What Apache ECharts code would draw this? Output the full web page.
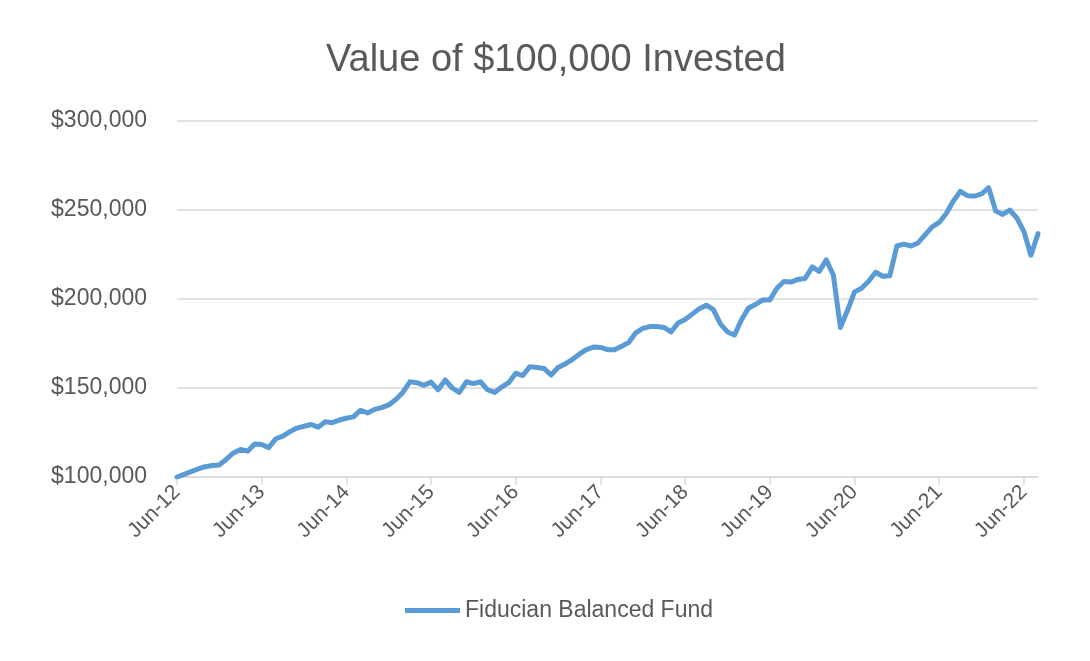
<!DOCTYPE html>
<html>
<head>
<meta charset="utf-8">
<title>Value of $100,000 Invested</title>
<script src="https://cdn.jsdelivr.net/npm/echarts@6/dist/echarts.min.js"></script>
<style>
  html, body { margin: 0; padding: 0; background: #fff; }
  #chart { width: 1090px; height: 661px; }
</style>
</head>
<body>
<div id="chart"></div>
<script>
// monthly points, Jun-12 .. Aug-22
const startYear = 2012
const startMonth = 5 // June (0 based)
const monthNames = ['Jan', 'Feb', 'Mar', 'Apr', 'May', 'Jun', 'Jul', 'Aug', 'Sep', 'Oct', 'Nov', 'Dec']

// fund value
const fundValues2012_14 = [
    100000, 101500, 103000, 104500, 105800, 106500, 106800, 110000, 113500, 115500, 114500, 118500,
    118300, 116500, 121500, 123000, 125500, 127500, 128500, 129500, 128000, 131000, 130500, 132000
]
const fundValues2014_16 = [
    133000, 133800, 137500, 136000, 138000, 139000, 140500, 143500, 147500, 153500, 153000, 151500,
    153300, 149000, 154500, 150000, 147500, 153500, 152500, 153500, 149000, 147500, 150500, 153000
]
const fundValues2016_18 = [
    158300, 157000, 162000, 161500, 161000, 157300, 161500, 163500, 166000, 169000, 171500, 173000,
    172800, 171500, 171500, 173500, 175500, 181000, 183500, 184500, 184500, 184000, 181500, 186500
]
const fundValues2018_20 = [
    188500, 191500, 194500, 196500, 194000, 186000, 181500, 179800, 188500, 195000, 197000, 199500,
    199500, 206000, 209800, 209500, 211000, 211500, 218000, 215500, 222000, 213500, 184000, 193500
]
const fundValues2020_22 = [
    204000, 206000, 210000, 215000, 212800, 213000, 229800, 230800, 229800, 231500, 236000, 240500,
    243000, 248000, 255000, 260500, 258000, 257800, 259000, 262600, 249500, 247500, 250000, 245500,
    238000, 224600, 236700
]

const fundName = 'Fiducian Balanced Fund'
const yTicks = [100000, 150000, 200000, 250000, 300000]

const fundValues = [].concat(fundValues2012_14, fundValues2014_16, fundValues2016_18,
    fundValues2018_20, fundValues2020_22)

// labels like Jun-12
const categories = fundValues.map((v, i) => {
    const m = startMonth + i
    const yy = startYear + Math.floor(m / 12)
    return monthNames[m % 12] + '-' + String(yy).slice(2)
})

const textColor = '#595959'
const gridColor = '#d9d9d9'
const fontName = 'Liberation Sans'

let myChart = echarts.init(document.getElementById('chart'))
const options = {
    backgroundColor: '#ffffff',
    animation: false,
    title: {
        text: 'Value of $100,000 Invested',
        left: 321,
        top: 37,
        textStyle: {
            color: textColor,
            fontFamily: fontName,
            fontSize: 38,
            fontWeight: 'normal'
        }
    },
    legend: {
        data: [fundName],
        left: 400,
        top: 594,
        icon: 'rect',
        itemWidth: 55,
        itemHeight: 5,
        itemGap: 10,
        textStyle: {
            color: textColor,
            fontFamily: fontName,
            fontSize: 23
        }
    },
    grid: {
        left: 177,
        right: 52,
        top: 121,
        bottom: 184,
        containLabel: false
    },
    xAxis: {
        type: 'category',
        boundaryGap: false,
        data: categories,
        axisLine: { lineStyle: { color: gridColor, width: 1.5 } },
        axisTick: {
            show: true,
            interval: 11,
            length: 8,
            lineStyle: { color: gridColor, width: 1.5 }
        },
        axisLabel: {
            interval: 11,
            rotate: 45,
            margin: 12,
            color: textColor,
            fontFamily: fontName,
            fontSize: 21
        },
        splitLine: { show: false }
    },
    yAxis: {
        type: 'value',
        min: yTicks[0],
        max: yTicks[yTicks.length - 1],
        interval: 50000,
        axisLine: { show: false },
        axisTick: { show: false },
        axisLabel: {
            margin: 30,
            color: textColor,
            fontFamily: fontName,
            fontSize: 23,
            formatter: v => '$' + v.toLocaleString('en-US')
        },
        splitLine: { lineStyle: { color: gridColor, width: 1.5 } }
    },
    series: [
        {
            name: fundName,
            type: 'line',
            data: fundValues,
            symbol: 'none',
            smooth: false,
            itemStyle: { color: '#5b9bd5' },
            lineStyle: { color: '#5b9bd5', width: 5, join: 'round', cap: 'round' }
        }
    ]
}
myChart.setOption(options)
</script>
</body>
</html>
